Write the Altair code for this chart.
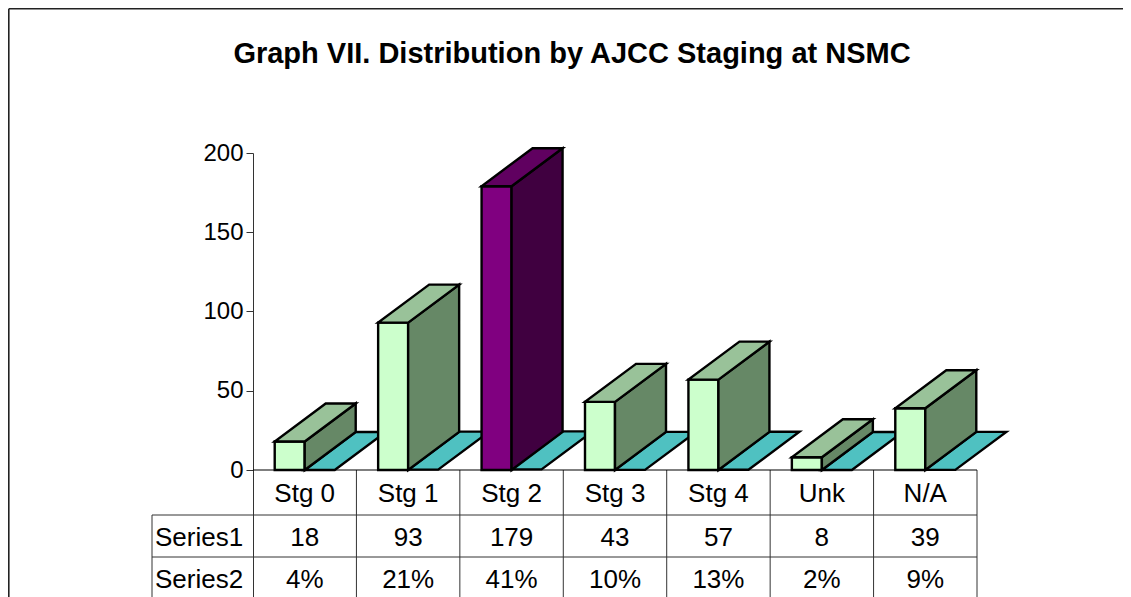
import altair as alt
import pandas as pd

# ---------------- data ----------------
categories = ["Stg 0", "Stg 1", "Stg 2", "Stg 3", "Stg 4", "Unk", "N/A"]
series1 = [18, 93, 179, 43, 57, 8, 39]
series2_pct = [4, 21, 41, 10, 13, 2, 9]
row_labels = ["Series1", "Series2"]
y_ticks = [0, 50, 100, 150, 200]
title_text = "Graph VII. Distribution by AJCC Staging at NSMC"
highlight = "Stg 2"

# ---------------- layout / style ----------------
FONT = "Liberation Sans"
W, H = 724, 444
PAD_L, PAD_T, PAD_R = 245, 145, 146
PX_PER_UNIT = 1.585
YMAX = 200
YMIN = YMAX - H / PX_PER_UNIT
NCAT = len(categories)
XUNIT = W / NCAT
BAR_W = 30 / XUNIT
DEPTH_X = 51 / XUNIT
DEPTH_Y = 38 / PX_PER_UNIT
Y0_PX = H * (YMAX - 0) / (YMAX - YMIN)
EDGE = 2.4

G_FRONT, G_TOP, G_SIDE = "#CCFFCC", "#99C299", "#668866"
P_FRONT, P_TOP, P_SIDE = "#800080", "#600060", "#400040"
S2_TOP = "#4FC1C1"
LINE = "#333333"

xs = alt.Scale(domain=[0, NCAT], nice=False, zero=False)
ys = alt.Scale(domain=[YMIN, YMAX], nice=False, zero=False)
yaxis = alt.Axis(values=y_ticks, tickSize=7, labelFontSize=24, labelFont=FONT,
                 labelColor="black", domainColor=LINE, tickColor=LINE,
                 labelPadding=3, grid=False, title=None)


def cond(a, b):
    return alt.condition(alt.datum.cat == highlight, alt.value(a), alt.value(b))


# ---------------- derived tables ----------------
centers = [i + 0.5 for i in range(NCAT)]
front = pd.DataFrame({
    "cat": categories,
    "x0": [c - BAR_W for c in centers],
    "x1": centers,
    "v": series1,
    "base": [0] * NCAT,
})

side_rows, top_rows, floor_rows = [], [], []
for cat, c, v, p in zip(categories, centers, series1, series2_pct):
    side_rows.append(dict(cat=cat, x=c, lo=0, hi=v))
    side_rows.append(dict(cat=cat, x=c + DEPTH_X, lo=DEPTH_Y, hi=v + DEPTH_Y))
    top_rows.append(dict(cat=cat, y=v, xl=c - BAR_W, xr=c))
    top_rows.append(dict(cat=cat, y=v + DEPTH_Y, xl=c - BAR_W + DEPTH_X, xr=c + DEPTH_X))
    v2 = p / 100
    floor_rows.append(dict(cat=cat, y=v2, xl=c, xr=c + BAR_W))
    floor_rows.append(dict(cat=cat, y=v2 + DEPTH_Y, xl=c + DEPTH_X, xr=c + BAR_W + DEPTH_X))
side = pd.DataFrame(side_rows)
top = pd.DataFrame(top_rows)
floor = pd.DataFrame(floor_rows)

table = pd.DataFrame({
    "cat": categories,
    "c": centers,
    "s1": [str(v) for v in series1],
    "s2": [f"{p}%" for p in series2_pct],
})
bounds = pd.DataFrame({"b": list(range(1, NCAT + 1))})
one = pd.DataFrame({"k": [0]})

# ---------------- marks ----------------
floor_l = alt.Chart(floor).mark_area(orient="horizontal", stroke="black", strokeWidth=EDGE,
                                     color=S2_TOP, fill=S2_TOP).encode(
    y=alt.Y("y:Q", scale=ys, axis=yaxis, stack=None),
    x=alt.X("xl:Q", scale=xs, axis=None, stack=None),
    x2="xr:Q",
    detail="cat:N",
)

front_l = alt.Chart(front).mark_rect(stroke="black", strokeWidth=EDGE).encode(
    x=alt.X("x0:Q", scale=xs, axis=None),
    x2="x1:Q",
    y=alt.Y("v:Q", scale=ys, axis=yaxis),
    y2="base:Q",
    color=cond(P_FRONT, G_FRONT),
)

side_l = alt.Chart(side).mark_area(orient="vertical", stroke="black", strokeWidth=EDGE).encode(
    x=alt.X("x:Q", scale=xs, axis=None),
    y=alt.Y("hi:Q", scale=ys, axis=yaxis, stack=None),
    y2="lo:Q",
    detail="cat:N",
    color=cond(P_SIDE, G_SIDE),
)

top_l = alt.Chart(top).mark_area(orient="horizontal", stroke="black", strokeWidth=EDGE).encode(
    y=alt.Y("y:Q", scale=ys, axis=yaxis, stack=None),
    x=alt.X("xl:Q", scale=xs, axis=None, stack=None),
    x2="xr:Q",
    detail="cat:N",
    color=cond(P_TOP, G_TOP),
)

# table grid
vlines = alt.Chart(bounds).mark_rule(color=LINE, strokeWidth=1).encode(
    x=alt.X("b:Q", scale=xs, axis=None),
    y=alt.value(Y0_PX),
    y2=alt.value(H),
)
baseline = alt.Chart(one).mark_rule(color="black", strokeWidth=1.2).encode(
    x=alt.value(0), x2=alt.value(W), y=alt.value(Y0_PX))
hline1 = alt.Chart(one).mark_rule(color=LINE, strokeWidth=1).encode(
    x=alt.value(-101), x2=alt.value(W), y=alt.value(362))
hline2 = alt.Chart(one).mark_rule(color=LINE, strokeWidth=1).encode(
    x=alt.value(-101), x2=alt.value(W), y=alt.value(404))
lborder = alt.Chart(one).mark_rule(color=LINE, strokeWidth=1).encode(
    x=alt.value(-101), y=alt.value(362), y2=alt.value(H))

txt = dict(font=FONT, fontSize=26, color="black", baseline="alphabetic")
head_t = alt.Chart(table).mark_text(align="center", **txt).encode(
    x=alt.X("c:Q", scale=xs, axis=None), y=alt.value(349), text="cat:N")
row1_t = alt.Chart(table).mark_text(align="center", **txt).encode(
    x=alt.X("c:Q", scale=xs, axis=None), y=alt.value(393), text="s1:N")
row2_t = alt.Chart(table).mark_text(align="center", **txt).encode(
    x=alt.X("c:Q", scale=xs, axis=None), y=alt.value(435), text="s2:N")
lab1 = alt.Chart(pd.DataFrame({"t": [row_labels[0]]})).mark_text(align="left", **txt).encode(
    x=alt.value(-98), y=alt.value(393), text="t:N")
lab2 = alt.Chart(pd.DataFrame({"t": [row_labels[1]]})).mark_text(align="left", **txt).encode(
    x=alt.value(-98), y=alt.value(435), text="t:N")

title_l = alt.Chart(pd.DataFrame({"t": [title_text]})).mark_text(
    font=FONT, fontSize=29, fontWeight="bold", color="black",
    align="center", baseline="alphabetic").encode(
    x=alt.value(319), y=alt.value(-90), text="t:N")

# chart frame
frame_top = alt.Chart(one).mark_rule(color="#222222", strokeWidth=1.6).encode(
    x=alt.value(-PAD_L + 0.8), x2=alt.value(W + PAD_R), y=alt.value(-PAD_T + 0.8))
frame_left = alt.Chart(one).mark_rule(color="#222222", strokeWidth=1.6).encode(
    x=alt.value(-PAD_L + 0.8), y=alt.value(-PAD_T + 0.8), y2=alt.value(H))

chart = alt.layer(
    frame_top, frame_left,
    vlines, hline1, hline2, lborder,
    floor_l, front_l, side_l, top_l, baseline,
    head_t, row1_t, row2_t, lab1, lab2,
    title_l,
).properties(
    width=W, height=H,
    padding={"left": PAD_L, "top": PAD_T, "right": PAD_R, "bottom": 0},
    autosize=alt.AutoSizeParams(type="none"),
    background="white",
).configure_view(stroke=None)

chart.save("out.html", embed_options={"renderer": "svg", "actions": False})
